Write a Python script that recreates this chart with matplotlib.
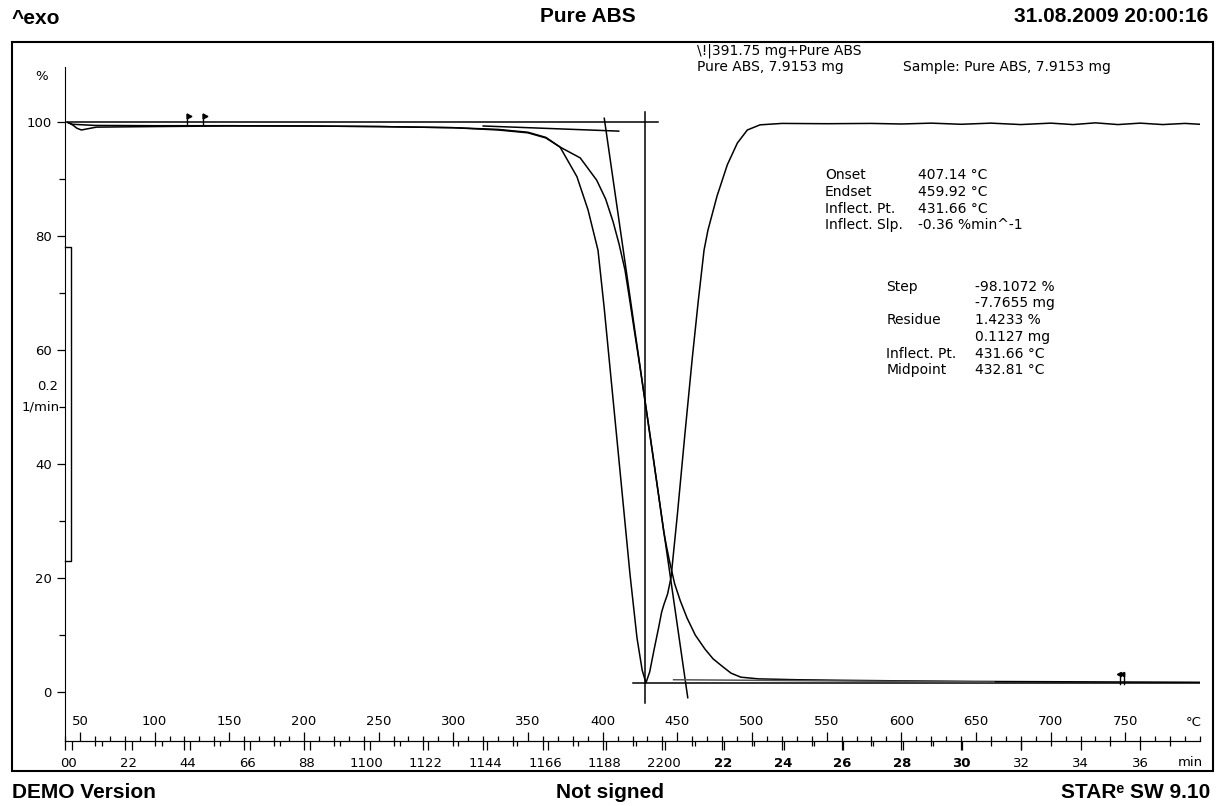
import numpy as np
import matplotlib.pyplot as plt
from matplotlib.patches import Rectangle

plt.rcParams['font.family'] = ['DejaVu Sans']

# TGA curve, % of initial mass vs temperature (°C)
tga_temp = [42, 45, 60, 100, 150, 200, 250, 300, 330, 350, 362, 371.5, 385, 396, 402,
            407, 411, 415, 418, 421, 424.5, 429, 433.5, 437.5, 441, 442.8, 444.5, 448.2,
            452, 456.5, 462, 468.6, 474, 480.6, 486, 492.5, 504.4, 530, 560, 600, 650,
            700, 750, 800]
tga_mass = [99.9, 99.6, 99.4, 99.35, 99.35, 99.3, 99.2, 99.0, 98.6, 98.1, 97.2, 95.6,
            93.7, 89.8, 86.5, 82.5, 78.6, 74.0, 69.0, 63.8, 57.9, 50.0, 41.9, 34.5,
            28.0, 25.5, 23.3, 19.0, 16.0, 13.0, 10.0, 7.5, 5.8, 4.4, 3.3, 2.6, 2.3,
            2.15, 2.05, 1.95, 1.85, 1.8, 1.75, 1.7]

# DTG curve (drawn on the % scale, 0.2 1/min bar)
dtg_temp = [42, 45, 48, 51, 55, 61, 100, 150, 200, 250, 300, 330, 350, 362, 371.5,
            382.8, 390.2, 396.9, 401, 406, 411, 418.3, 423, 426.5, 429, 431.5, 434.5,
            437.5, 439.5, 441.1, 443.5, 445.8, 450, 455, 460, 464, 467.9, 470.5, 476.6,
            483.5, 490.2, 496.9, 505.4, 520, 550, 580, 600, 620, 640, 660, 680, 700,
            715, 730, 745, 760, 775, 790, 800]
dtg_val = [99.9, 99.5, 98.9, 98.6, 98.8, 99.1, 99.2, 99.3, 99.3, 99.2, 99.0, 98.7,
           98.2, 97.3, 95.6, 90.4, 84.6, 77.5, 67.5, 54.0, 40.5, 20.7, 9.5, 3.8, 1.6,
           3.5, 7.5, 11.3, 14.0, 15.4, 17.2, 20.1, 31, 45, 58.5, 68.5, 77.5, 81.0,
           87.0, 92.5, 96.3, 98.6, 99.5, 99.75, 99.7, 99.75, 99.65, 99.8, 99.6, 99.8,
           99.55, 99.8, 99.55, 99.85, 99.55, 99.8, 99.55, 99.75, 99.6]

# evaluation lines
ref_line_t = [40, 437.0]
ref_line_y = [100, 100]
base_top_t = [320, 410.8]
base_top_y = [99.3, 98.4]
tangent_t = [401.1, 457.0]
tangent_y = [100.65, -1.0]
mid_t = 428.4
mid_y = [101.8, -2.0]
resid_t = [420.3, 800]
resid_y = [1.6, 1.6]
base_bot_t = [447.5, 662]
base_bot_y = [2.15, 1.75]

flags_top = [121.5, 132.6]
flags_bot = [746.5, 749.0]

temp_ticks = list(range(50, 751, 50))
time_ticks = list(range(0, 37, 2))
# second (shifted) time scale printed over the first one, in px
time_shift_px = [7, 7, 6, 6, 6, 6, 5, 4, 5, 3, 3, 2, 2, 1.5, 1.5, 1, 0.5, 0, 0]

onset_rows = [("Onset", "407.14 °C"), ("Endset", "459.92 °C"),
              ("Inflect. Pt.", "431.66 °C"), ("Inflect. Slp.", "-0.36 %min^-1")]
step_rows = [("Step", "-98.1072 %"), ("", "-7.7655 mg"), ("Residue", "1.4233 %"),
             ("", "0.1127 mg"), ("Inflect. Pt.", "431.66 °C"), ("Midpoint", "432.81 °C")]

W, H = 1219, 806


def fx(px):
    return px / W


def fy(py):
    return 1 - py / H


fig = plt.figure(figsize=(W / 100, H / 100), dpi=100)
ax = fig.add_axes([fx(65), fy(741), 1135 / W, (741 - 53.6) / H])
ax.set_xlim(40, 800)
ax.set_ylim(-8.6, 112)

lw = 1.1
ax.plot(tga_temp, tga_mass, color='k', lw=lw)
ax.plot(dtg_temp, dtg_val, color='k', lw=lw)
ax.plot(ref_line_t, ref_line_y, color='k', lw=lw)
ax.plot(base_top_t, base_top_y, color='k', lw=lw)
ax.plot(tangent_t, tangent_y, color='k', lw=lw)
ax.plot([mid_t, mid_t], mid_y, color='k', lw=lw)
ax.plot(resid_t, resid_y, color='k', lw=lw)
ax.plot(base_bot_t, base_bot_y, color='#555555', lw=lw)

for t in flags_top:
    ax.plot([t, t], [99.6, 101.4], color='k', lw=1)
    ax.plot(t + 1.3, 101.1, marker='>', ms=3.5, color='k')
for t in flags_bot:
    ax.plot([t, t], [1.4, 3.4], color='k', lw=1)
    ax.plot(t - 1.0, 3.1, marker='<', ms=3.0, color='k')

# DTG scale bar
ax.plot([40, 44.2, 44.2, 40], [78.1, 78.1, 23.0, 23.0], color='k', lw=1, clip_on=False)

# axes styling
for s in ['top', 'right']:
    ax.spines[s].set_visible(False)
ax.spines['left'].set_bounds(-8.6, 109.7)
ax.set_yticks([0, 20, 40, 60, 80, 100])
ax.set_yticks([10, 30, 50, 70, 90], minor=True)
ax.tick_params(axis='y', which='major', direction='out', length=6, width=0.9,
               pad=3.5, labelsize=9.5)
ax.tick_params(axis='y', which='minor', direction='out', length=4.5, width=0.9)

ax.set_xticks(temp_ticks)
ax.set_xticks(list(range(40, 801, 10)), minor=True)
ax.tick_params(axis='x', which='major', direction='in', length=6.5, width=0.9,
               pad=-19, labelsize=9.5)
ax.tick_params(axis='x', which='minor', direction='in', length=3.6, width=0.9)

# time scale (min): two slightly shifted copies of the tick marks
to_min = (lambda T: (np.asarray(T) - 40) / 20, lambda t: 40 + 20 * np.asarray(t))
px_per_min = 1135 / 38.0
shift_min = [s / px_per_min for s in time_shift_px]

sec = ax.secondary_xaxis('bottom', functions=to_min)
sec.set_xticks(time_ticks, labels=[''] * len(time_ticks))
sec.set_xticks(list(range(1, 38, 2)), minor=True)
sec.tick_params(which='major', direction='out', length=6.5, width=0.9)
sec.tick_params(which='minor', direction='out', length=3.6, width=0.9)

shifted = [(t, s) for t, s in zip(time_ticks, shift_min) if s > 0]
sec2 = ax.secondary_xaxis('bottom', functions=to_min)
sec2.set_xticks([t + s for t, s in shifted], labels=[''] * len(shifted))
sec2.set_xticks([t + 1 + s for t, s in shifted if t < 30], minor=True)
sec2.tick_params(which='major', direction='out', length=6.5, width=0.9)
sec2.tick_params(which='minor', direction='out', length=3.6, width=0.9)
sec2.spines['bottom'].set_visible(False)

# time labels, printed twice with the shift -> merged digits
time_labels = []
for t, s in zip(time_ticks, time_shift_px):
    if s >= 2.5:
        time_labels.append(''.join(c * 2 for c in str(t)))
    else:
        time_labels.append(str(t))
sec3 = ax.secondary_xaxis('bottom', functions=to_min)
sec3.set_xticks([t + s / 2 for t, s in zip(time_ticks, shift_min)], labels=time_labels)
sec3.tick_params(which='major', length=0, pad=11.5, labelsize=9.5)
sec3.spines['bottom'].set_visible(False)
for lab, s in zip(sec3.get_xticklabels(), time_shift_px):
    if 1 <= s < 2.5:
        lab.set_fontweight('bold')

# axis units
fig.text(fx(42), fy(77), "%", ha='center', va='center', fontsize=9.5)
fig.text(fx(47.5), fy(386.7), "0.2", ha='center', va='center', fontsize=9.5)
fig.text(fx(41), fy(406.7), "1/min", ha='center', va='center', fontsize=9.5)
fig.text(fx(1194), fy(722), "°C", ha='center', va='center', fontsize=9.5)
fig.text(fx(1190), fy(762), "min", ha='center', va='center', fontsize=9.5)

# curve labels
fig.text(fx(697), fy(51), r"\!|391.75 mg+Pure ABS", ha='left', va='center', fontsize=10)
fig.text(fx(697), fy(67), "Pure ABS, 7.9153 mg", ha='left', va='center', fontsize=10)
fig.text(fx(903), fy(67), "Sample: Pure ABS, 7.9153 mg", ha='left', va='center',
         fontsize=10)

# evaluation results
for i, (lab, val) in enumerate(onset_rows):
    y = 175 + i * 16.8
    fig.text(fx(825), fy(y), lab, ha='left', va='center', fontsize=10)
    fig.text(fx(918), fy(y), val, ha='left', va='center', fontsize=10)
for i, (lab, val) in enumerate(step_rows):
    y = 286.7 + i * 16.7
    if lab:
        fig.text(fx(886.5), fy(y), lab, ha='left', va='center', fontsize=10)
    fig.text(fx(975), fy(y), val, ha='left', va='center', fontsize=10)

# page header / footer
hfont = dict(family=['Liberation Sans', 'DejaVu Sans'], fontweight='bold', fontsize=15)
fig.text(fx(12), fy(19), "^exo", ha='left', va='center', **hfont)
fig.text(fx(588), fy(16), "Pure ABS", ha='center', va='center', **hfont)
fig.text(fx(1208), fy(16), "31.08.2009 20:00:16", ha='right', va='center', **hfont)
fig.text(fx(12), fy(793), "DEMO Version", ha='left', va='center', **hfont)
fig.text(fx(610), fy(793), "Not signed", ha='center', va='center', **hfont)
fig.text(fx(1210), fy(793), "STARᵉ SW 9.10", ha='right', va='center', **hfont)

fig.add_artist(Rectangle((fx(12), fy(771)), 1201 / W, 729 / H, transform=fig.transFigure,
                         fill=False, lw=1.5, color='k'))

fig.savefig("out.png", dpi=100)
